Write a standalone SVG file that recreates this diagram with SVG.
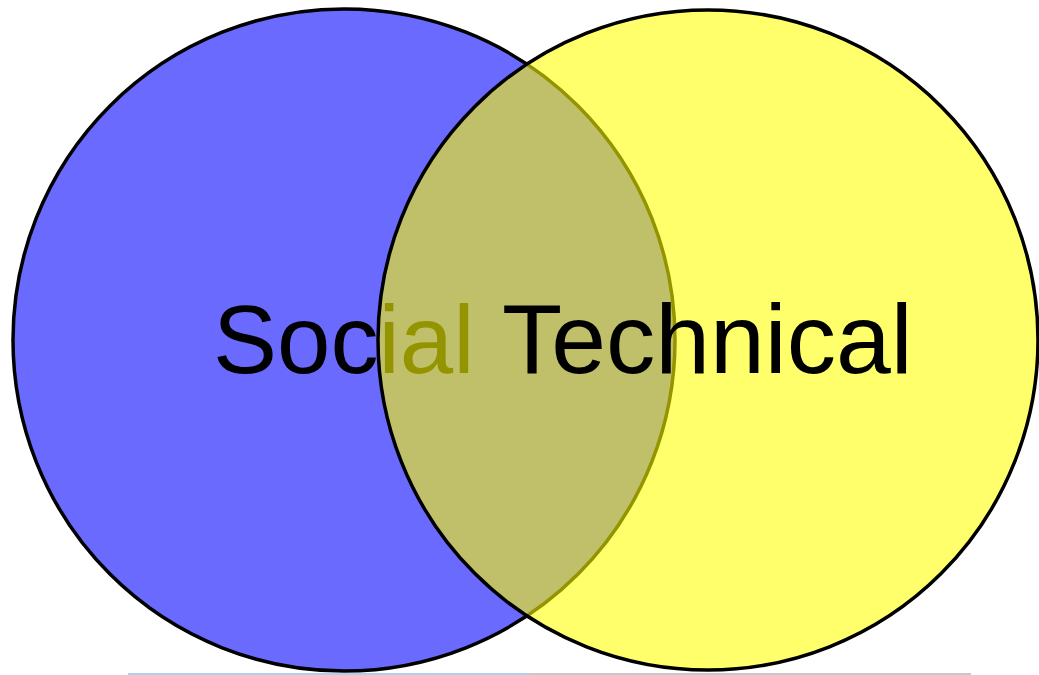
<svg xmlns="http://www.w3.org/2000/svg" width="1039" height="675" viewBox="0 0 1039 675">
<style>
.c{stroke:#000;stroke-width:3.5}
.t{font-family:"Liberation Sans",Arial,sans-serif;font-size:96px;fill:#000}
</style>
<rect width="1039" height="675" fill="#fff"/>
<g id="social">
<circle class="c" cx="344" cy="340" r="331" fill="#6A6AFF"/>
<text class="t" x="213" y="373">Social</text>
</g>
<g id="technical">
<circle class="c" cx="708" cy="340" r="330" fill="#FFFF00" fill-opacity="0.58"/>
<text class="t" x="502" y="373" style="font-size:98.5px">Technical</text>
</g>
<g id="connectors"/>
<rect x="128" y="673" width="402" height="2" fill="#b0d0f0"/>
<rect x="530" y="673" width="441" height="2" fill="#c8c8c8"/>
</svg>
